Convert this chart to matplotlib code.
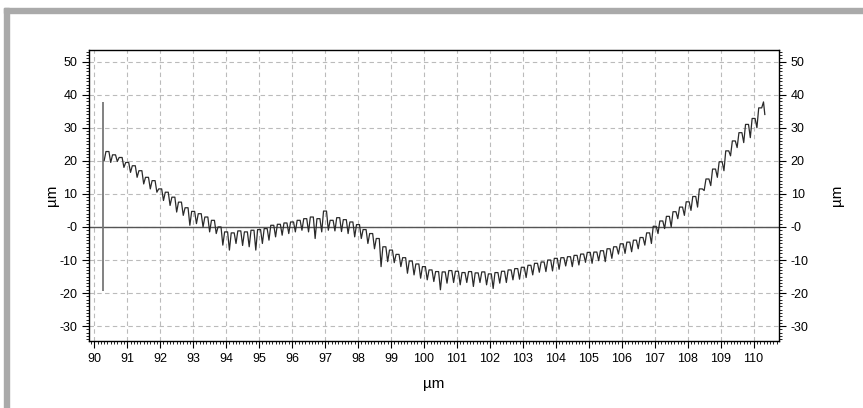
import numpy as np
import matplotlib
matplotlib.use("Agg")
import matplotlib.pyplot as plt
from matplotlib.patches import Rectangle
from matplotlib.ticker import MultipleLocator, FixedLocator, FixedFormatter

plt.rcParams['font.family'] = ['Liberation Sans', 'DejaVu Sans']

# ---- data ----
x_start = 90.4
x_step = 0.2
top_vals = [22.8, 21.8, 21.0, 19.5, 18.5, 17.0, 15.0, 14.0, 11.5, 10.5,
            9.0, 7.5, 5.8, 4.7, 4.0, 3.0, 2.0, 0.0, -1.5, -1.8,
            -1.2, -1.5, -1.0, -0.8, -0.5, 0.5, 0.8, 1.2, 1.5, 2.0,
            2.5, 3.0, 2.5, 4.8, 2.0, 2.8, 2.2, 1.5, 0.7, -0.8,
            -2.0, -3.5, -6.0, -7.0, -8.3, -9.3, -10.3, -11.2, -12.0, -13.0,
            -13.5, -13.6, -13.2, -13.4, -13.8, -13.5, -13.9, -13.6, -14.2, -13.8,
            -13.4, -13.0, -12.6, -12.2, -11.6, -11.0, -10.6, -10.0, -9.5, -9.3,
            -9.0, -8.6, -8.2, -7.7, -7.6, -7.2, -6.6, -6.0, -5.1, -4.6,
            -4.0, -3.2, -1.8, 0.2, 1.8, 3.2, 4.6, 6.0, 7.6, 9.2,
            11.5, 14.5, 17.5, 19.7, 23.0, 26.0, 28.5, 31.0, 32.8, 36.0]
dip_vals = [19.5, 19.8, 18.0, 16.5, 15.0, 13.0, 11.5, 10.5, 8.0, 6.5,
            4.5, 3.5, 0.5, 1.0, 0.0, -1.5, -2.0, -5.5, -7.0, -5.0,
            -5.6, -6.0, -7.0, -5.0, -4.0, -3.0, -2.5, -2.0, -1.5, -1.0,
            -1.5, -3.5, -1.5, -1.0, -1.2, -1.4, -2.0, -3.0, -3.5, -5.0,
            -6.6, -12.0, -10.5, -10.8, -12.0, -14.0, -14.5, -15.5, -16.0, -16.5,
            -19.0, -17.0, -16.8, -17.5, -16.8, -18.0, -16.8, -17.5, -18.6, -17.0,
            -16.8, -16.0, -15.8, -15.3, -14.5, -13.7, -13.5, -13.3, -12.8, -11.8,
            -12.0, -11.5, -10.7, -11.0, -10.2, -10.5, -9.5, -8.2, -8.0, -7.5,
            -6.6, -5.5, -5.0, -2.0, -0.5, 0.0, 2.5, 3.5, 5.0, 6.0,
            11.0, 12.5, 15.0, 17.0, 21.5, 24.0, 25.5, 27.0, 30.0]
start_x = [90.30, 90.34]
start_y = [20.0, 22.0]
end_x = [110.30, 110.34]
end_y = [37.8, 34.0]
spike_x = 90.28
spike_lo, spike_hi = -19.3, 37.9

y_ticks = [50, 40, 30, 20, 10, 0, -10, -20, -30]
y_labels = ["50", "40", "30", "20", "10", "-0", "-10", "-20", "-30"]
x_ticks = list(range(90, 111))
x_labels = [str(v) for v in x_ticks]
axis_label = "µm"

# ---- build series: short tops with narrow downward spikes ----
n = len(top_vals)
xt = x_start + x_step * np.arange(n)
xs, ys = list(start_x), list(start_y)
for i in range(n):
    xs += [xt[i] - 0.045, xt[i] + 0.045]
    ys += [top_vals[i], top_vals[i]]
    if i < len(dip_vals):
        xs.append(xt[i] + 0.1)
        ys.append(dip_vals[i])
xs += end_x
ys += end_y

fig = plt.figure(figsize=(8.63, 4.08), dpi=100)
# gray frame
fig.patches.append(Rectangle((4/863, 0), 5/863, 1 - 8/408, transform=fig.transFigure,
                             color='#aaaaaa', zorder=0))
fig.patches.append(Rectangle((4/863, 1 - 13/408), 1, 5/408, transform=fig.transFigure,
                             color='#aaaaaa', zorder=0))

ax = fig.add_axes([89.3/863, 1 - 340.7/408, (779 - 89.3)/863, (340.7 - 50)/408])
ax.set_xlim(89.85, 110.77)
ax.set_ylim(-34.4, 53.5)

ax.grid(True, which='major', linestyle=(0, (4, 3)), color='#bbbbbb', linewidth=0.8)
ax.set_axisbelow(True)

ax.axhline(0, color='#555555', linewidth=1.0, zorder=2)
ax.vlines(spike_x, spike_lo, spike_hi, color='#777777', linewidth=1.3, zorder=3)
ax.plot(xs, ys, color='#2a2a2a', linewidth=0.9, zorder=4)

ax.xaxis.set_major_locator(FixedLocator(x_ticks))
ax.xaxis.set_major_formatter(FixedFormatter(x_labels))
ax.xaxis.set_minor_locator(MultipleLocator(0.1))
ax.yaxis.set_major_locator(FixedLocator(y_ticks))
ax.yaxis.set_major_formatter(FixedFormatter(y_labels))
ax.yaxis.set_minor_locator(MultipleLocator(1))

ax.tick_params(which='major', direction='out', length=5, width=0.8, labelsize=9, colors='black')
ax.tick_params(which='minor', direction='out', length=2.5, width=0.6)
ax.tick_params(axis='y', which='both', left=True, right=True, labelleft=True, labelright=True)
ax.tick_params(axis='x', which='both', top=False)
for s in ax.spines.values():
    s.set_linewidth(1.0)
    s.set_color('black')

ax.set_xlabel(axis_label, fontsize=11, labelpad=9)
ax.set_ylabel(axis_label, fontsize=11, labelpad=0)
ax2 = ax.secondary_yaxis('right')
ax2.set_yticks([])
ax2.spines['right'].set_visible(False)
ax2.set_ylabel(axis_label, fontsize=11, labelpad=37)

fig.savefig("out.png", dpi=100)
